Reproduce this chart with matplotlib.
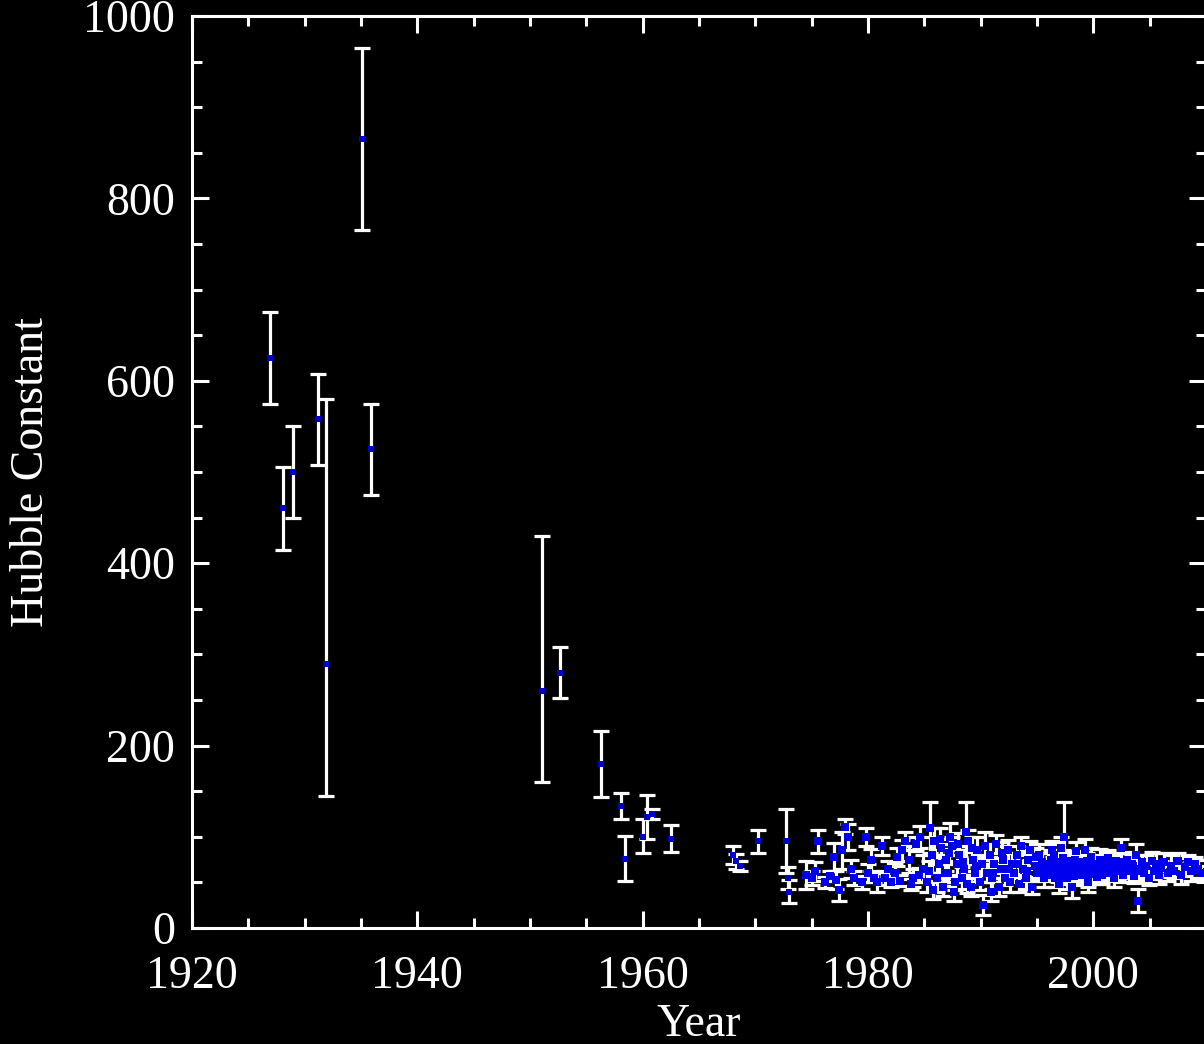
import numpy as np
import matplotlib
matplotlib.use("Agg")
import matplotlib.pyplot as plt
import matplotlib.transforms as mtransforms
from matplotlib.ticker import MultipleLocator

# (year, H0, err_minus, err_plus) for the early measurements
early = [
    (1926.9, 625, 50, 50), (1928.1, 460, 45, 45), (1929.0, 500, 50, 50),
    (1931.2, 558, 50, 50), (1931.9, 290, 145, 290), (1935.1, 865, 100, 100),
    (1935.9, 525, 50, 50), (1951.1, 260, 100, 170), (1952.7, 280, 28, 28),
    (1956.3, 180, 36, 36), (1958.1, 134, 14, 14), (1958.4, 76, 25, 25),
    (1960.0, 100, 18, 20), (1960.4, 122, 24, 24), (1960.8, 125, 5, 5),
    (1962.5, 98, 15, 15), (1968.0, 80, 10, 10), (1968.3, 73, 8, 8),
    (1968.6, 68, 5, 5), (1970.2, 95, 13, 13), (1972.7, 95, 35, 35),
    (1972.9, 55, 12, 12), (1973.0, 40, 13, 13),
]

# (year, H0, err) afterwards
obs_1970s = [
    (1974.5, 58, 15), (1975.0, 55, 8), (1975.3, 62, 10), (1975.6, 95, 13),
    (1976.2, 50, 6), (1976.6, 57, 5), (1977.0, 78, 15), (1977.2, 53, 10),
    (1977.4, 42, 12), (1977.7, 85, 20), (1978.0, 111, 8), (1978.2, 100, 14),
    (1978.5, 65, 10), (1978.8, 55, 8), (1979.5, 50, 7), (1979.8, 100, 10),
]
obs_1980s = [
    (1980.0, 60, 10), (1980.3, 75, 12), (1980.5, 55, 5), (1980.8, 50, 10),
    (1981.2, 90, 10), (1981.5, 55, 8), (1982.0, 50, 5), (1982.4, 60, 10),
    (1982.8, 52, 6), (1983.0, 85, 12), (1983.3, 95, 10), (1983.6, 75, 15),
    (1984.0, 55, 10), (1984.3, 92, 8), (1984.6, 100, 12), (1984.9, 65, 15),
    (1985.2, 50, 10), (1985.5, 110, 28), (1985.7, 80, 20), (1985.9, 95, 15),
    (1986.1, 55, 15), (1986.3, 70, 10), (1986.5, 88, 10), (1986.7, 45, 10),
    (1986.9, 75, 12), (1987.1, 60, 10), (1987.3, 100, 15), (1987.5, 90, 10),
    (1987.7, 50, 8), (1987.9, 70, 15), (1988.1, 80, 10), (1988.3, 55, 12),
    (1988.5, 65, 10), (1988.7, 105, 33), (1988.9, 95, 12), (1989.1, 45, 10),
    (1989.3, 75, 12), (1989.5, 60, 10), (1989.7, 85, 15), (1989.9, 50, 8),
    (1985.4, 62, 12), (1985.8, 42, 10), (1986.4, 98, 12), (1986.8, 60, 14),
    (1987.2, 82, 10), (1987.6, 40, 10), (1988.0, 92, 12), (1988.4, 72, 14),
    (1988.8, 48, 10), (1989.2, 88, 12), (1989.6, 68, 10), (1983.8, 48, 6),
    (1981.8, 65, 8), (1982.6, 78, 10), (1984.5, 58, 8),
]
obs_1990s = [
    (1990.1, 70, 10), (1990.2, 25, 11), (1990.4, 90, 15), (1990.6, 60, 10),
    (1990.8, 80, 12), (1991.0, 55, 12), (1991.2, 70, 8), (1991.4, 92, 10),
    (1991.6, 45, 10), (1991.8, 65, 10), (1992.0, 75, 15), (1992.2, 55, 8),
    (1992.4, 85, 12), (1992.6, 50, 10), (1992.8, 70, 12), (1993.0, 60, 10),
    (1993.2, 80, 10), (1993.4, 48, 8), (1993.6, 90, 10), (1993.8, 65, 8),
    (1994.0, 55, 12), (1994.2, 75, 10), (1994.4, 85, 10), (1994.6, 45, 8),
    (1994.8, 68, 12), (1995.0, 60, 8), (1995.2, 80, 12), (1995.4, 72, 10),
    (1995.6, 55, 10), (1995.8, 65, 8), (1996.0, 70, 12), (1996.1, 62, 8),
    (1996.2, 75, 10), (1996.3, 58, 6), (1996.4, 68, 10), (1996.5, 80, 12),
    (1996.6, 55, 10), (1996.7, 65, 8), (1996.8, 72, 7), (1996.9, 60, 10),
    (1997.0, 70, 12), (1997.1, 64, 6), (1997.2, 58, 10), (1997.3, 77, 8),
    (1997.4, 100, 38), (1997.5, 62, 6), (1997.6, 68, 9), (1997.7, 55, 12),
    (1997.8, 72, 10), (1997.9, 65, 7), (1998.0, 60, 10), (1998.1, 70, 6),
    (1998.2, 63, 8), (1998.3, 57, 10), (1998.4, 75, 9), (1998.5, 66, 6),
    (1998.6, 60, 12), (1998.7, 70, 10), (1998.8, 62, 5), (1998.9, 58, 8),
    (1999.0, 68, 15), (1999.1, 64, 7), (1999.2, 72, 10), (1999.3, 60, 6),
    (1999.4, 66, 14), (1999.5, 55, 10), (1999.6, 70, 8), (1999.7, 62, 7),
    (1999.8, 78, 10), (1999.9, 64, 9),
    (1996.15, 66, 5), (1996.45, 60, 7), (1996.75, 70, 9), (1997.05, 57, 6),
    (1997.35, 66, 8), (1997.65, 74, 6), (1997.95, 61, 9), (1998.25, 68, 5),
    (1998.55, 72, 7), (1998.85, 66, 10), (1999.15, 58, 6), (1999.45, 74, 8),
    (1999.75, 59, 6), (1996.35, 85, 10), (1997.15, 88, 12), (1998.45, 84, 10),
    (1999.25, 86, 12), (1996.95, 48, 10), (1998.15, 45, 12), (1999.55, 50, 10),
    (1991.1, 60, 10), (1991.9, 82, 12), (1992.5, 65, 8), (1993.3, 70, 12),
    (1994.1, 62, 10), (1994.9, 78, 10), (1995.5, 64, 12), (1990.9, 40, 10),
]
obs_2000s = [
    (2000.0, 59, 8), (2000.2, 70, 10), (2000.4, 62, 8), (2000.6, 75, 12),
    (2000.8, 58, 10), (2001.0, 66, 8), (2001.2, 72, 10), (2001.4, 60, 9),
    (2001.6, 68, 12), (2001.8, 55, 10), (2002.0, 74, 8), (2002.2, 63, 10),
    (2002.4, 70, 12), (2002.6, 58, 8), (2002.8, 66, 10), (2003.0, 75, 8),
    (2003.2, 62, 12), (2003.4, 70, 10), (2003.6, 57, 8), (2003.8, 80, 12),
    (2004.0, 30, 13), (2004.1, 65, 10), (2004.3, 72, 8), (2004.5, 60, 10),
    (2004.7, 68, 12), (2004.9, 55, 8), (2005.2, 73, 10), (2005.4, 62, 8),
    (2005.6, 70, 12), (2005.8, 58, 10), (2006.0, 66, 8), (2006.3, 72, 10),
    (2006.6, 60, 9), (2006.9, 68, 12), (2007.2, 63, 8), (2007.5, 74, 8),
    (2007.8, 58, 10), (2008.1, 67, 10), (2008.4, 72, 8), (2008.7, 62, 10),
    (2009.0, 70, 8), (2009.3, 65, 10), (2009.6, 60, 8),
    (2000.1, 65, 6), (2000.3, 56, 8), (2000.5, 68, 7), (2000.7, 64, 5),
    (2000.9, 71, 8), (2001.1, 61, 6), (2001.3, 77, 9), (2001.5, 65, 6),
    (2001.7, 62, 8), (2001.9, 70, 7), (2002.3, 66, 8), (2002.7, 72, 6),
    (2003.1, 64, 9), (2003.5, 68, 6), (2003.9, 62, 8), (2002.5, 88, 10),
]

plt.rcParams['font.family'] = ['Liberation Serif', 'DejaVu Serif']

fig = plt.figure(figsize=(12.04, 10.44), dpi=100, facecolor='black')
ax = fig.add_axes([192 / 1204, 116 / 1044, 1014 / 1204, 912 / 1044])
ax.set_facecolor('black')

e = np.array(early, dtype=float)
ax.errorbar(e[:, 0], e[:, 1], yerr=[e[:, 2], e[:, 3]], fmt='none',
            ecolor='white', elinewidth=2.3, capsize=5.8, capthick=2.3)

modern = np.array(obs_1970s + obs_1980s + obs_1990s + obs_2000s, dtype=float)
ax.errorbar(modern[:, 0], modern[:, 1], yerr=modern[:, 2], fmt='none',
            ecolor='white', elinewidth=2.3, capsize=5.8, capthick=2.3)

ax.plot(e[:, 0], e[:, 1], 's', color='#0000cc', ms=4, mew=0)
ax.plot(modern[:, 0], modern[:, 1], 's', color='#0000ee', ms=5.5, mew=0)

ax.set_xlim(1920, 2010)
ax.set_ylim(0, 1000)
ax.xaxis.set_major_locator(MultipleLocator(20))
ax.xaxis.set_minor_locator(MultipleLocator(5))
ax.yaxis.set_major_locator(MultipleLocator(200))
ax.yaxis.set_minor_locator(MultipleLocator(50))

for s in ax.spines.values():
    s.set_color('white')
    s.set_linewidth(2.2)
ax.tick_params(which='both', direction='in', top=True, right=True,
               colors='white', width=2.2, labelsize=33)
ax.tick_params(which='major', length=12.5)
ax.tick_params(which='minor', length=7)
ax.tick_params(axis='x', which='major', pad=20)
ax.tick_params(axis='y', which='major', pad=12)

# IDL-style: lift the "0" label and drop the "1000" label a bit
fig.canvas.draw()
ticks = ax.yaxis.get_major_ticks()
up = mtransforms.ScaledTranslation(0, 16 / 100, fig.dpi_scale_trans)
down = mtransforms.ScaledTranslation(0, -11 / 100, fig.dpi_scale_trans)
ticks[0].label1.set_transform(ticks[0].label1.get_transform() + up)
ticks[-1].label1.set_transform(ticks[-1].label1.get_transform() + down)

ax.set_xlabel("Year", color='white', fontsize=33, labelpad=4)
ax.set_ylabel("Hubble Constant", color='white', fontsize=33, labelpad=22)

fig.savefig("out.png", dpi=100, facecolor='black')
